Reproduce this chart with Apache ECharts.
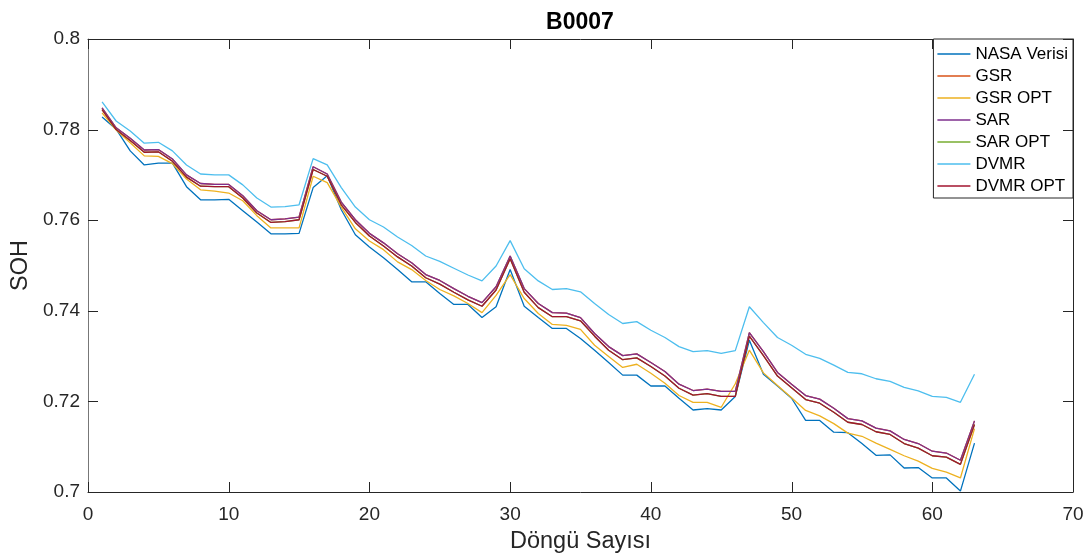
<!DOCTYPE html>
<html>
<head>
<meta charset="utf-8">
<title>B0007</title>
<script src="https://cdn.jsdelivr.net/npm/echarts@6/dist/echarts.min.js"></script>
<style>
  html, body { margin: 0; padding: 0; background: #fff; }
  #main { width: 1091px; height: 559px; }
</style>
</head>
<body>
<div id="main"></div>
<script>
// döngü (cycle) numbers 1..63
var cycles = [];
for (var c = 1; c <= 63; c++) cycles.push(c);

var xTicks = [0, 10, 20, 30, 40, 50, 60, 70];
var yTicks = [0.7, 0.72, 0.74, 0.76, 0.78, 0.8];

var nasa = [0.7828, 0.7801, 0.7753, 0.7722, 0.7726, 0.7726, 0.7674, 0.7645, 0.7645, 0.7646,
  0.7621, 0.7596, 0.7570, 0.7570, 0.7571, 0.7672, 0.7698, 0.7623, 0.7568, 0.7541,
  0.7517, 0.7491, 0.7464, 0.7464, 0.7438, 0.7414, 0.7414, 0.7385, 0.7409, 0.7491,
  0.7410, 0.7385, 0.7361, 0.7361, 0.7339, 0.7313, 0.7286, 0.7258, 0.7258, 0.7234,
  0.7234, 0.7207, 0.7181, 0.7184, 0.7181, 0.7211, 0.7335, 0.7260, 0.7234, 0.7207,
  0.7158, 0.7158, 0.7132, 0.7131, 0.7107, 0.7081, 0.7082, 0.7053, 0.7054, 0.7031,
  0.7031, 0.7002, 0.7108];

var gsr = [0.7848, 0.7804, 0.7781, 0.7755, 0.7756, 0.7735, 0.7700, 0.7681, 0.7679, 0.7679,
  0.7654, 0.7621, 0.7601, 0.7603, 0.7607, 0.7718, 0.7702, 0.7640, 0.7601, 0.7571,
  0.7550, 0.7526, 0.7506, 0.7480, 0.7467, 0.7449, 0.7432, 0.7418, 0.7453, 0.7521,
  0.7449, 0.7416, 0.7396, 0.7395, 0.7385, 0.7350, 0.7321, 0.7301, 0.7305, 0.7286,
  0.7266, 0.7238, 0.7224, 0.7227, 0.7222, 0.7222, 0.7352, 0.7310, 0.7264, 0.7238,
  0.7213, 0.7205, 0.7185, 0.7162, 0.7157, 0.7141, 0.7135, 0.7116, 0.7107, 0.7090,
  0.7086, 0.7070, 0.7157];

var gsrOpt = [0.7837, 0.7799, 0.7771, 0.7742, 0.7741, 0.7725, 0.7691, 0.7667, 0.7664, 0.7660,
  0.7643, 0.7610, 0.7583, 0.7583, 0.7583, 0.7697, 0.7683, 0.7629, 0.7581, 0.7554,
  0.7535, 0.7508, 0.7491, 0.7467, 0.7447, 0.7433, 0.7416, 0.7396, 0.7434, 0.7480,
  0.7427, 0.7394, 0.7370, 0.7368, 0.7359, 0.7324, 0.7299, 0.7275, 0.7282, 0.7262,
  0.7240, 0.7213, 0.7198, 0.7198, 0.7187, 0.7239, 0.7313, 0.7263, 0.7235, 0.7208,
  0.7180, 0.7168, 0.7151, 0.7130, 0.7123, 0.7108, 0.7094, 0.7080, 0.7068, 0.7052,
  0.7044, 0.7031, 0.7140];

var sar = [0.7848, 0.7804, 0.7781, 0.7755, 0.7756, 0.7735, 0.7700, 0.7681, 0.7679, 0.7679,
  0.7654, 0.7621, 0.7601, 0.7603, 0.7607, 0.7718, 0.7702, 0.7640, 0.7601, 0.7571,
  0.7550, 0.7526, 0.7506, 0.7480, 0.7467, 0.7449, 0.7432, 0.7418, 0.7453, 0.7521,
  0.7449, 0.7416, 0.7396, 0.7395, 0.7385, 0.7350, 0.7321, 0.7301, 0.7305, 0.7286,
  0.7266, 0.7238, 0.7224, 0.7227, 0.7222, 0.7222, 0.7352, 0.7310, 0.7264, 0.7238,
  0.7213, 0.7205, 0.7185, 0.7162, 0.7157, 0.7141, 0.7135, 0.7116, 0.7107, 0.7090,
  0.7086, 0.7070, 0.7157];

var sarOpt = [0.7844, 0.7800, 0.7776, 0.7750, 0.7751, 0.7730, 0.7695, 0.7675, 0.7674, 0.7674,
  0.7649, 0.7616, 0.7595, 0.7597, 0.7601, 0.7712, 0.7697, 0.7634, 0.7595, 0.7565,
  0.7543, 0.7519, 0.7499, 0.7473, 0.7459, 0.7441, 0.7424, 0.7410, 0.7446, 0.7515,
  0.7441, 0.7407, 0.7387, 0.7387, 0.7378, 0.7344, 0.7313, 0.7292, 0.7296, 0.7277,
  0.7256, 0.7229, 0.7214, 0.7217, 0.7211, 0.7211, 0.7344, 0.7301, 0.7256, 0.7230,
  0.7204, 0.7196, 0.7176, 0.7154, 0.7149, 0.7133, 0.7127, 0.7107, 0.7097, 0.7080,
  0.7077, 0.7061, 0.7149];

var dvmr = [0.7861, 0.7819, 0.7797, 0.7770, 0.7772, 0.7753, 0.7722, 0.7702, 0.7700, 0.7700,
  0.7678, 0.7649, 0.7629, 0.7630, 0.7634, 0.7736, 0.7722, 0.7672, 0.7629, 0.7601,
  0.7585, 0.7563, 0.7544, 0.7521, 0.7509, 0.7494, 0.7479, 0.7466, 0.7499, 0.7555,
  0.7493, 0.7466, 0.7447, 0.7449, 0.7442, 0.7416, 0.7392, 0.7372, 0.7376, 0.7357,
  0.7341, 0.7321, 0.7310, 0.7312, 0.7306, 0.7312, 0.7409, 0.7374, 0.7341, 0.7324,
  0.7304, 0.7295, 0.7280, 0.7264, 0.7261, 0.7250, 0.7244, 0.7231, 0.7223, 0.7211,
  0.7209, 0.7198, 0.7260];

var dvmrOpt = [0.7844, 0.7800, 0.7776, 0.7750, 0.7751, 0.7730, 0.7695, 0.7675, 0.7674, 0.7674,
  0.7649, 0.7616, 0.7595, 0.7597, 0.7601, 0.7712, 0.7697, 0.7634, 0.7595, 0.7565,
  0.7543, 0.7519, 0.7499, 0.7473, 0.7459, 0.7441, 0.7424, 0.7410, 0.7446, 0.7515,
  0.7441, 0.7407, 0.7387, 0.7387, 0.7378, 0.7344, 0.7313, 0.7292, 0.7296, 0.7277,
  0.7256, 0.7229, 0.7214, 0.7217, 0.7211, 0.7211, 0.7344, 0.7301, 0.7256, 0.7230,
  0.7204, 0.7196, 0.7176, 0.7154, 0.7149, 0.7133, 0.7127, 0.7107, 0.7097, 0.7080,
  0.7077, 0.7061, 0.7149];

var names = ['NASA Verisi', 'GSR', 'GSR OPT', 'SAR', 'SAR OPT', 'DVMR', 'DVMR OPT'];
var colors = ['#0072BD', '#D95319', '#EDB120', '#7E2F8E', '#77AC30', '#4DBEEE', '#A2142F'];
var values = [nasa, gsr, gsrOpt, sar, sarOpt, dvmr, dvmrOpt];

var font = 'Liberation Sans, Arial, Helvetica, sans-serif';
var dark = '#262626';
var tickLen = 10;

function pairs(arr) {
  return arr.map(function (v, i) { return [cycles[i], v]; });
}

var series = names.map(function (n, i) {
  return {
    name: n,
    type: 'line',
    data: pairs(values[i]),
    symbol: 'none',
    z: 2,
    lineStyle: { width: 1.3, color: colors[i] },
    itemStyle: { color: colors[i] }
  };
});

var xMin = xTicks[0], xMax = xTicks[xTicks.length - 1], xStep = xTicks[1] - xTicks[0];
var yMin = yTicks[0], yMax = yTicks[yTicks.length - 1], yStep = 0.02;

var chart = echarts.init(document.getElementById('main'));
chart.setOption({
  animation: false,
  textStyle: { fontFamily: font },
  title: {
    text: 'B0007',
    left: 575,
    top: 6,
    textAlign: 'center',
    textStyle: { fontFamily: font, fontSize: 23, fontWeight: 'bold', color: '#000' }
  },
  legend: {
    orient: 'vertical',
    right: 18,
    top: 39,
    z: 10,
    padding: [4, 5, 1, 4],
    itemGap: 0,
    itemWidth: 33,
    itemHeight: 1.5,
    icon: 'rect',
    backgroundColor: '#fff',
    borderColor: dark,
    borderWidth: 1,
    borderRadius: 0,
    textStyle: { fontFamily: font, fontSize: 17, color: '#000', lineHeight: 22 },
    data: names
  },
  grid: {
    left: 88, right: 18, top: 39, bottom: 65,
    show: false
  },
  xAxis: [{
    type: 'value', position: 'bottom', z: 5,
    min: xMin, max: xMax, interval: xStep,
    name: 'Döngü Sayısı',
    nameLocation: 'middle',
    nameGap: 38,
    nameTextStyle: { fontFamily: font, fontSize: 23.5, color: dark },
    axisLine: { show: true, onZero: false, lineStyle: { color: dark, width: 1 } },
    axisTick: { show: false },
    axisLabel: { fontFamily: font, fontSize: 19, color: dark, margin: 13 },
    splitLine: { show: false }
  }, {
    type: 'value', position: 'top', z: 5,
    min: xMin, max: xMax, interval: xStep,
    axisLine: { show: true, onZero: false, lineStyle: { color: dark, width: 1 } },
    axisTick: { show: false },
    axisLabel: { show: false },
    splitLine: { show: false }
  }],
  yAxis: [{
    type: 'value', position: 'left', z: 5,
    min: yMin, max: yMax, interval: yStep,
    name: 'SOH',
    nameLocation: 'middle',
    nameRotate: 90,
    nameGap: 53,
    nameTextStyle: { fontFamily: font, fontSize: 23.5, color: dark },
    axisLine: { show: true, onZero: false, lineStyle: { color: '#777', width: 1 } },
    axisTick: { show: false },
    axisLabel: {
      fontFamily: font, fontSize: 19, color: dark, margin: 8,
      formatter: function (v) { return String(+v.toFixed(2)); }
    },
    splitLine: { show: false }
  }, {
    type: 'value', position: 'right', z: 5,
    min: yMin, max: yMax, interval: yStep,
    axisLine: { show: true, onZero: false, lineStyle: { color: dark, width: 1 } },
    axisTick: { show: false },
    axisLabel: { show: false },
    splitLine: { show: false }
  }],
  series: series
});

// MATLAB kutusundaki içe bakan tikler: konumlar eksen ölçeğinden alınır
(function () {
  function px(v) { return Math.round(v) + 0.5; }
  var gLeft = chart.convertToPixel({ xAxisIndex: 0 }, xMin);
  var gRight = chart.convertToPixel({ xAxisIndex: 0 }, xMax);
  var gBottom = chart.convertToPixel({ yAxisIndex: 0 }, yMin);
  var gTop = chart.convertToPixel({ yAxisIndex: 0 }, yMax);
  var marks = [];
  function tick(x1, y1, x2, y2) {
    marks.push({
      type: 'line', z: 20, silent: true,
      shape: { x1: x1, y1: y1, x2: x2, y2: y2 },
      style: { stroke: dark, lineWidth: 1 }
    });
  }
  xTicks.forEach(function (t) {
    var x = px(chart.convertToPixel({ xAxisIndex: 0 }, t));
    tick(x, gBottom, x, gBottom - tickLen);
    tick(x, gTop, x, gTop + tickLen);
  });
  yTicks.forEach(function (t) {
    var y = px(chart.convertToPixel({ yAxisIndex: 0 }, t));
    tick(gLeft, y, gLeft + tickLen, y);
    tick(gRight, y, gRight - tickLen, y);
  });
  chart.setOption({ graphic: { elements: marks } });
})();
</script>
</body>
</html>
